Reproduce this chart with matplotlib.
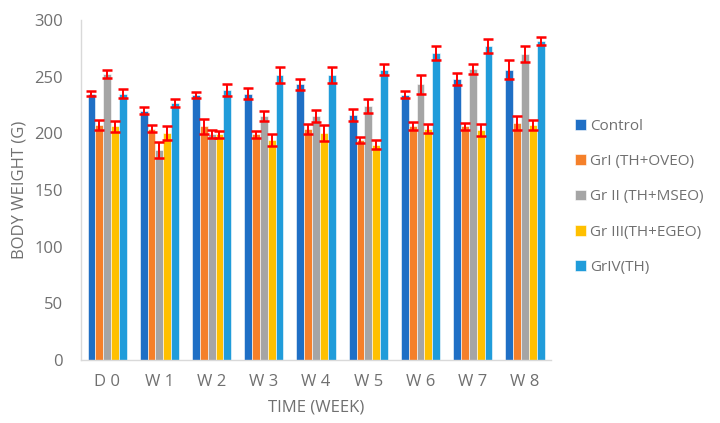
import numpy as np
import matplotlib.pyplot as plt

plt.rcParams["font.family"] = ["Open Sans", "DejaVu Sans"]

weeks = ["D 0", "W 1", "W 2", "W 3", "W 4", "W 5", "W 6", "W 7", "W 8"]
groups = ["Control", "GrI (TH+OVEO)", "Gr II (TH+MSEO)", "Gr III(TH+EGEO)", "GrIV(TH)"]

control = [235, 220, 234, 235, 243, 216, 234, 248, 256]
gr1 = [207, 204, 206, 199, 204, 194, 206, 206, 209]
gr2 = [252, 185, 199, 215, 215, 224, 243, 257, 270]
gr3 = [206, 200, 199, 194, 200, 190, 204, 203, 207]
gr4 = [235, 227, 238, 251, 251, 256, 271, 277, 281]

control_err = [2.5, 3, 2.5, 4.5, 4.5, 5, 3, 5.5, 8.5]
gr1_err = [4.5, 3, 7, 3, 4.5, 3, 3.5, 3, 6]
gr2_err = [3.5, 7, 3.5, 4.5, 5.5, 6.5, 8, 4.5, 7]
gr3_err = [5, 6, 3, 5.5, 7, 4, 4, 5, 4.5]
gr4_err = [4, 3.5, 5, 7, 7, 5, 6, 6, 3.5]

colors = ["#1F6FC5", "#F5802A", "#A5A5A5", "#FFC000", "#209CDA"]
text_col = "#707070"

series = [control, gr1, gr2, gr3, gr4]
errors = [control_err, gr1_err, gr2_err, gr3_err, gr4_err]

fig = plt.figure(figsize=(7.2, 4.23), dpi=100)
ax = fig.add_axes([0.1125, 0.149, 0.653, 0.804])

x = np.arange(len(weeks))
width = 0.15
for i, (vals, errs, name, col) in enumerate(zip(series, errors, groups, colors)):
    pos = x + (i - 2) * width
    ax.bar(pos, vals, width, color=col, label=name, edgecolor="white", linewidth=0.4)
    ax.errorbar(pos, vals, yerr=errs, fmt="none", ecolor="#FF0000",
                elinewidth=1.4, capsize=3.5, capthick=1.8)

ax.set_xlim(-0.5, len(weeks) - 0.5)
ax.set_ylim(0, 300)
ax.set_yticks(range(0, 301, 50))
ax.set_xticks(x)
ax.set_xticklabels(weeks)

for s in ["top", "right"]:
    ax.spines[s].set_visible(False)
for s in ["left", "bottom"]:
    ax.spines[s].set_color("#D9D9D9")
    ax.spines[s].set_linewidth(1.0)
ax.tick_params(axis="y", length=0, colors=text_col, labelsize=12, pad=13)
ax.tick_params(axis="x", length=0, colors=text_col, labelsize=12, pad=10)

ax.set_xlabel("TIME (WEEK)", color=text_col, fontsize=12, labelpad=7)
ax.set_ylabel("BODY WEIGHT (G)", color=text_col, fontsize=12, labelpad=5)

leg = ax.legend(loc="center left", bbox_to_anchor=(1.038, 0.48), frameon=False,
                borderaxespad=0, fontsize=11, handlelength=0.7, handleheight=0.7,
                handletextpad=0.3, labelspacing=1.33, labelcolor=text_col)

fig.savefig("out.png", dpi=100)
